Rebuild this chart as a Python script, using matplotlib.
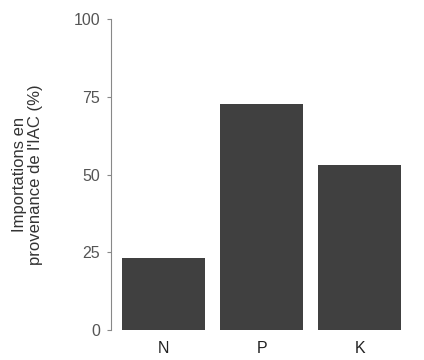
import matplotlib
matplotlib.use("Agg")
import matplotlib.pyplot as plt

plt.rcParams["font.family"] = ["Liberation Sans", "DejaVu Sans"]

categories = ["N", "P", "K"]
values = [23.1, 72.7, 53.0]
yticks = [0, 25, 50, 75, 100]

fig = plt.figure(figsize=(4.24, 3.6), dpi=100)
ax = fig.add_axes([0.262, 0.083, 0.71, 0.864])
x = range(len(categories))
ax.bar(x, values, width=0.85, color="#404040")
ax.set_xlim(-0.536, 2.536)
ax.set_ylim(0, 100)
ax.set_yticks(yticks)
ax.set_yticklabels([str(t) for t in yticks])
ax.set_xticks(list(x))
ax.set_xticklabels(categories)
for s in ["top", "right", "bottom"]:
    ax.spines[s].set_visible(False)
ax.spines["left"].set_color("#888888")
ax.spines["left"].set_linewidth(0.8)
ax.tick_params(axis="y", colors="#888888", labelcolor="#555555", labelsize=11.5, length=3, width=0.8, pad=5)
ax.tick_params(axis="x", length=0, labelsize=11.5, labelcolor="#222222", pad=8)
ax.set_ylabel("Importations en\nprovenance de l'IAC (%)", fontsize=12, color="#333333", labelpad=22, linespacing=1.1)
fig.savefig("out.png", dpi=100)
